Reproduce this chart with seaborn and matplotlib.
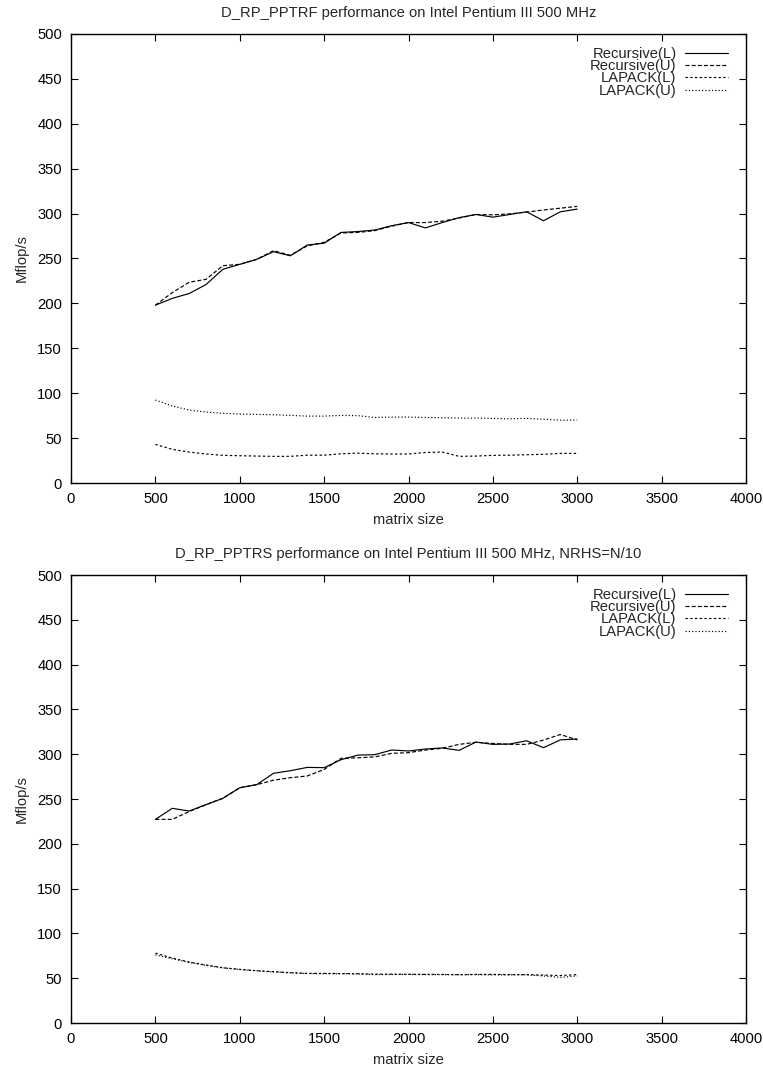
import matplotlib
matplotlib.use("Agg")
import matplotlib.pyplot as plt
import seaborn as sns
import pandas as pd

sizes = [500, 600, 700, 800, 900, 1000, 1100, 1200, 1300, 1400, 1500, 1600, 1700,
         1800, 1900, 2000, 2100, 2200, 2300, 2400, 2500, 2600, 2700, 2800, 2900, 3000]

# D_RP_PPTRF
rec_L_f = [198, 205.6, 211, 221, 238, 243.5, 249, 257.6, 253, 265, 267, 279, 280, 281.7,
           286.5, 290, 284, 290, 295.5, 299, 296, 299, 302, 292, 302, 305]
rec_U_f = [198, 212, 223.5, 226.8, 242, 243.5, 249, 258.7, 253.5, 264, 268, 278.4, 279, 281,
           286, 290, 290, 291.5, 295, 299, 298.6, 299.7, 301.6, 304, 306, 308]
lap_L_f = [43, 37.5, 34.5, 32.3, 30.8, 30.4, 30, 29.7, 29.7, 31, 31, 32.5, 33.3, 32.5,
           32.3, 32.3, 34, 34.5, 29.7, 30, 30.8, 31, 31.5, 32, 33, 33]
lap_U_f = [92.4, 85.7, 81.3, 79, 77.6, 76.8, 76.4, 76, 75.3, 74.5, 74.5, 75.3, 75, 73,
           73.4, 73.4, 73, 72.7, 72.3, 72.3, 71.9, 71.5, 72, 71, 70, 70]

# D_RP_PPTRS
rec_L_s = [227.3, 239.6, 236.6, 243.7, 250.8, 262.6, 266, 278.7, 281.6, 285.3, 285, 293.9, 299,
           299.5, 304.7, 303.6, 305.8, 307, 304.3, 313.6, 311, 311.4, 315, 307.3, 316, 317]
rec_U_s = [227.3, 227.3, 236, 243.7, 250.8, 262.6, 266, 271, 273.8, 275.7, 283, 295.4, 296,
           297, 301, 301.7, 304.7, 306.6, 311, 313.3, 312, 311, 311, 315.8, 322, 316]
lap_L_s = [78, 72.5, 68, 64.7, 61.7, 59.9, 58.4, 57.3, 56.2, 55.4, 55.4, 55.2, 55, 54.6,
           54.5, 54.4, 54.3, 54.2, 54, 54.2, 54.3, 54, 54, 53.5, 53, 54]
lap_U_s = [76, 71.8, 67.6, 64.3, 61.5, 59.7, 58.2, 57, 56, 55.2, 55, 55, 54.8, 54,
           54.2, 54.2, 54, 54, 53.8, 54, 53.6, 53.8, 53.8, 52.5, 51, 52.5]

series_names = ["Recursive(L)", "Recursive(U)", "LAPACK(L)", "LAPACK(U)"]
titles = ["D_RP_PPTRF performance on Intel Pentium III 500 MHz",
          "D_RP_PPTRS performance on Intel Pentium III 500 MHz, NRHS=N/10"]
x_ticks = [0, 500, 1000, 1500, 2000, 2500, 3000, 3500, 4000]
y_ticks = [0, 50, 100, 150, 200, 250, 300, 350, 400, 450, 500]

sns.set_style("ticks")
plt.rcParams['font.family'] = ['Liberation Sans', 'DejaVu Sans']
FS = 10.6
plt.rcParams['font.size'] = FS

dashes = [None, (3.4, 1.8), (2.0, 2.0), (1.0, 1.8)]

fig = plt.figure(figsize=(7.63, 10.71), dpi=100)
axes = [fig.add_axes([0.0931, 0.549, 0.8846, 0.4193]),
        fig.add_axes([0.0931, 0.0448, 0.8846, 0.4183])]

panels = [[rec_L_f, rec_U_f, lap_L_f, lap_U_f], [rec_L_s, rec_U_s, lap_L_s, lap_U_s]]

for ax, data, title in zip(axes, panels, titles):
    for name, vals, ds in zip(series_names, data, dashes):
        df = pd.DataFrame({"matrix size": sizes, "Mflop/s": vals})
        sns.lineplot(data=df, x="matrix size", y="Mflop/s", ax=ax, color="black",
                     linewidth=0.85, label=name)
        l = ax.get_lines()[-1]
        if ds is not None:
            l.set_dashes(ds)
    ax.set_xlim(0, 4000)
    ax.set_ylim(0, 500)
    ax.set_xticks(x_ticks)
    ax.set_yticks(y_ticks)
    ax.tick_params(direction="in", length=5, width=0.8, top=True, right=True,
                   labelsize=FS, pad=6.5, colors="black")
    for sp in ax.spines.values():
        sp.set_linewidth(1.0)
        sp.set_color("black")
    ax.set_xlabel("matrix size", fontsize=FS, labelpad=5)
    ax.set_ylabel("Mflop/s", fontsize=FS, labelpad=6)
    ax.set_title(title, fontsize=FS, pad=12)
    leg = ax.legend(loc="upper right", bbox_to_anchor=(0.9733, 0.971), frameon=False,
                    markerfirst=False, fontsize=FS, handlelength=2.9, handletextpad=0.6,
                    labelspacing=-0.12, borderpad=0, borderaxespad=0)
    leg._legend_box.get_children()[1].align = "right"
    for c in leg._legend_box.get_children()[1].get_children():
        c.align = "right"

fig.savefig("out.png", dpi=100)
